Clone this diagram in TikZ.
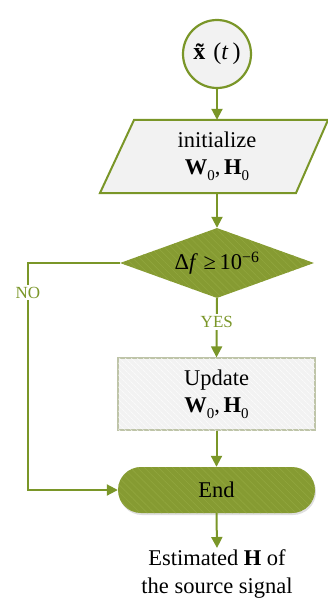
\documentclass[tikz,border=0pt]{standalone}
\usepackage{fontspec}
\setmainfont{Liberation Serif}
\usetikzlibrary{arrows.meta,shapes.geometric,patterns.meta,shadows}

\definecolor{leafline}{RGB}{122,150,40}
\definecolor{leaffill}{RGB}{134,155,50}
\definecolor{leafhatch}{RGB}{145,166,62}
\definecolor{boxgray}{RGB}{242,242,242}
\definecolor{boxedge}{RGB}{190,196,168}

\newcommand{\subzero}{\raisebox{-0.55ex}{\fontsize{15}{15}\selectfont 0}}
\newcommand{\pairWH}{\textbf{W}\subzero,\,\textbf{H}\subzero}

\tikzset{
  maintext/.style={font=\fontsize{22.5}{28}\selectfont, text=black, align=center},
  flow/.style={draw=leafline, line width=2pt, -{Triangle[width=11pt,length=11pt]}},
  flowlabel/.style={font=\fontsize{17}{19}\selectfont, text=leafline, fill=white, inner sep=2pt},
  greenhatch/.style={postaction={pattern={Lines[angle=-45,distance=5pt,line width=0.6pt]}, pattern color=leafhatch}},
  grayhatch/.style={postaction={pattern={Lines[angle=-45,distance=4pt,line width=0.5pt]}, pattern color=white}},
}

\begin{document}
\begin{tikzpicture}[x=1pt,y=-1pt]
\useasboundingbox (0,0) rectangle (327,599);

% start: input signal
\node[circle, draw=leafline, line width=2.2pt, fill=boxgray, minimum size=68pt, inner sep=0,
      maintext, font=\fontsize{24}{28}\selectfont]
  (src) at (217,54) {\textbf{\~x}(\textit{t}\,)};

% initialisation (parallelogram drawn around a text node)
\draw[draw=leafline, line width=2pt, fill=boxgray]
  (134,120) -- (328,120) -- (296,193) -- (100,193) -- cycle;
\node[minimum width=160pt, minimum height=73pt, inner sep=0, maintext]
  (init) at (217,156.5) {initialize\\[-1pt]\pairWH};

% stopping test
\node[diamond, aspect=2.8, minimum width=194pt, minimum height=70pt, inner sep=0,
      fill=leaffill, greenhatch, maintext]
  (cond) at (217,263) {Δ\textit{f}\ ≥\,10\textsuperscript{−6}};

% update step
\node[rectangle, draw=boxedge, line width=1.2pt, fill=boxgray, grayhatch,
      minimum width=197pt, minimum height=72pt, inner sep=0, maintext]
  (upd) at (216.5,394) {Update\\[-1pt]\pairWH};

% terminal
\node[rectangle, rounded corners=23pt, fill=leaffill, greenhatch,
      drop shadow={opacity=0.25, shadow xshift=1pt, shadow yshift=-2pt},
      minimum width=197pt, minimum height=46pt, inner sep=0, maintext]
  (endn) at (216.5,490) {End};

% output
\node[anchor=north, inner sep=1pt, maintext] (est) at (217,548)
  {Estimated \textbf{H} of\\the source signal};

\coordinate (nolane) at (28,0);

% connectors
\draw[flow] (src) -- (init);
\draw[flow] (init) -- (cond);
\draw[flow] (cond.south) -- node[pos=0.4, flowlabel] {YES} (upd.north);
\draw[flow] (cond.west) -- (cond.west -| nolane)
  -- node[pos=0.13, flowlabel] {NO} (endn.west -| nolane) -- (endn.west);
\draw[flow] (upd.south) -- (endn.north);
\draw[flow] (endn.south) -- (est.north);
\end{tikzpicture}
\end{document}
